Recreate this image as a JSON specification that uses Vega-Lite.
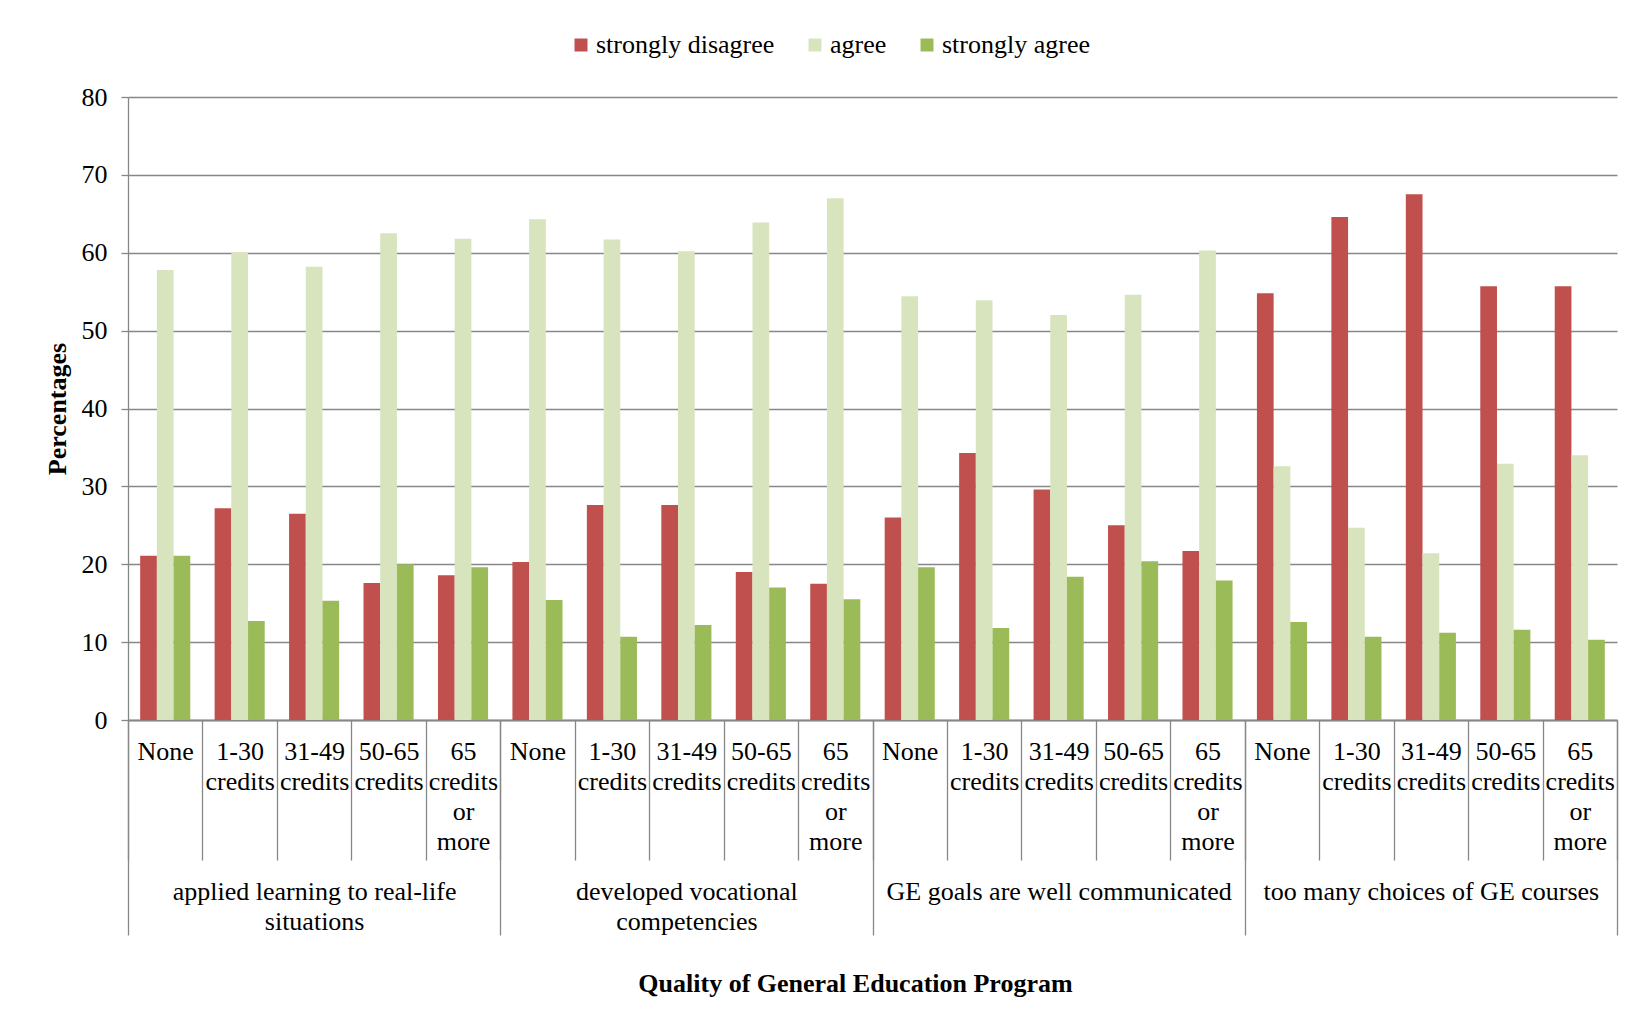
{
  "$schema": "https://vega.github.io/schema/vega-lite/v6.json",
  "autosize": {"type": "none"},
  "padding": {"left": 128, "top": 97, "right": 31, "bottom": 313},
  "width": 1489,
  "height": 623,
  "background": "white",
  "config": {
    "view": {"stroke": null},
    "font": "Liberation Serif"
  },
  "data": {
    "values": [
      {"question": "applied learning to real-life situations", "credits": "None", "response": "strongly disagree", "pct": 21.1},
      {"question": "applied learning to real-life situations", "credits": "None", "response": "agree", "pct": 57.8},
      {"question": "applied learning to real-life situations", "credits": "None", "response": "strongly agree", "pct": 21.1},
      {"question": "applied learning to real-life situations", "credits": "1-30 credits", "response": "strongly disagree", "pct": 27.2},
      {"question": "applied learning to real-life situations", "credits": "1-30 credits", "response": "agree", "pct": 60.1},
      {"question": "applied learning to real-life situations", "credits": "1-30 credits", "response": "strongly agree", "pct": 12.7},
      {"question": "applied learning to real-life situations", "credits": "31-49 credits", "response": "strongly disagree", "pct": 26.5},
      {"question": "applied learning to real-life situations", "credits": "31-49 credits", "response": "agree", "pct": 58.2},
      {"question": "applied learning to real-life situations", "credits": "31-49 credits", "response": "strongly agree", "pct": 15.3},
      {"question": "applied learning to real-life situations", "credits": "50-65 credits", "response": "strongly disagree", "pct": 17.6},
      {"question": "applied learning to real-life situations", "credits": "50-65 credits", "response": "agree", "pct": 62.5},
      {"question": "applied learning to real-life situations", "credits": "50-65 credits", "response": "strongly agree", "pct": 20.0},
      {"question": "applied learning to real-life situations", "credits": "65 credits or more", "response": "strongly disagree", "pct": 18.6},
      {"question": "applied learning to real-life situations", "credits": "65 credits or more", "response": "agree", "pct": 61.8},
      {"question": "applied learning to real-life situations", "credits": "65 credits or more", "response": "strongly agree", "pct": 19.6},

      {"question": "developed vocational competencies", "credits": "None", "response": "strongly disagree", "pct": 20.3},
      {"question": "developed vocational competencies", "credits": "None", "response": "agree", "pct": 64.3},
      {"question": "developed vocational competencies", "credits": "None", "response": "strongly agree", "pct": 15.4},
      {"question": "developed vocational competencies", "credits": "1-30 credits", "response": "strongly disagree", "pct": 27.6},
      {"question": "developed vocational competencies", "credits": "1-30 credits", "response": "agree", "pct": 61.7},
      {"question": "developed vocational competencies", "credits": "1-30 credits", "response": "strongly agree", "pct": 10.7},
      {"question": "developed vocational competencies", "credits": "31-49 credits", "response": "strongly disagree", "pct": 27.6},
      {"question": "developed vocational competencies", "credits": "31-49 credits", "response": "agree", "pct": 60.2},
      {"question": "developed vocational competencies", "credits": "31-49 credits", "response": "strongly agree", "pct": 12.2},
      {"question": "developed vocational competencies", "credits": "50-65 credits", "response": "strongly disagree", "pct": 19.0},
      {"question": "developed vocational competencies", "credits": "50-65 credits", "response": "agree", "pct": 63.9},
      {"question": "developed vocational competencies", "credits": "50-65 credits", "response": "strongly agree", "pct": 17.0},
      {"question": "developed vocational competencies", "credits": "65 credits or more", "response": "strongly disagree", "pct": 17.5},
      {"question": "developed vocational competencies", "credits": "65 credits or more", "response": "agree", "pct": 67.0},
      {"question": "developed vocational competencies", "credits": "65 credits or more", "response": "strongly agree", "pct": 15.5},

      {"question": "GE goals are well communicated", "credits": "None", "response": "strongly disagree", "pct": 26.0},
      {"question": "GE goals are well communicated", "credits": "None", "response": "agree", "pct": 54.4},
      {"question": "GE goals are well communicated", "credits": "None", "response": "strongly agree", "pct": 19.6},
      {"question": "GE goals are well communicated", "credits": "1-30 credits", "response": "strongly disagree", "pct": 34.3},
      {"question": "GE goals are well communicated", "credits": "1-30 credits", "response": "agree", "pct": 53.9},
      {"question": "GE goals are well communicated", "credits": "1-30 credits", "response": "strongly agree", "pct": 11.8},
      {"question": "GE goals are well communicated", "credits": "31-49 credits", "response": "strongly disagree", "pct": 29.6},
      {"question": "GE goals are well communicated", "credits": "31-49 credits", "response": "agree", "pct": 52.0},
      {"question": "GE goals are well communicated", "credits": "31-49 credits", "response": "strongly agree", "pct": 18.4},
      {"question": "GE goals are well communicated", "credits": "50-65 credits", "response": "strongly disagree", "pct": 25.0},
      {"question": "GE goals are well communicated", "credits": "50-65 credits", "response": "agree", "pct": 54.6},
      {"question": "GE goals are well communicated", "credits": "50-65 credits", "response": "strongly agree", "pct": 20.4},
      {"question": "GE goals are well communicated", "credits": "65 credits or more", "response": "strongly disagree", "pct": 21.7},
      {"question": "GE goals are well communicated", "credits": "65 credits or more", "response": "agree", "pct": 60.3},
      {"question": "GE goals are well communicated", "credits": "65 credits or more", "response": "strongly agree", "pct": 17.9},

      {"question": "too many choices of GE courses", "credits": "None", "response": "strongly disagree", "pct": 54.8},
      {"question": "too many choices of GE courses", "credits": "None", "response": "agree", "pct": 32.6},
      {"question": "too many choices of GE courses", "credits": "None", "response": "strongly agree", "pct": 12.6},
      {"question": "too many choices of GE courses", "credits": "1-30 credits", "response": "strongly disagree", "pct": 64.6},
      {"question": "too many choices of GE courses", "credits": "1-30 credits", "response": "agree", "pct": 24.7},
      {"question": "too many choices of GE courses", "credits": "1-30 credits", "response": "strongly agree", "pct": 10.7},
      {"question": "too many choices of GE courses", "credits": "31-49 credits", "response": "strongly disagree", "pct": 67.5},
      {"question": "too many choices of GE courses", "credits": "31-49 credits", "response": "agree", "pct": 21.4},
      {"question": "too many choices of GE courses", "credits": "31-49 credits", "response": "strongly agree", "pct": 11.2},
      {"question": "too many choices of GE courses", "credits": "50-65 credits", "response": "strongly disagree", "pct": 55.7},
      {"question": "too many choices of GE courses", "credits": "50-65 credits", "response": "agree", "pct": 32.9},
      {"question": "too many choices of GE courses", "credits": "50-65 credits", "response": "strongly agree", "pct": 11.6},
      {"question": "too many choices of GE courses", "credits": "65 credits or more", "response": "strongly disagree", "pct": 55.7},
      {"question": "too many choices of GE courses", "credits": "65 credits or more", "response": "agree", "pct": 34.0},
      {"question": "too many choices of GE courses", "credits": "65 credits or more", "response": "strongly agree", "pct": 10.3}
    ]
  },
  "transform": [
    {"calculate": "datum.question + '|' + datum.credits", "as": "cell"}
  ],
  "encoding": {
    "y": {
      "field": "pct",
      "type": "quantitative",
      "scale": {"domain": [0, 80], "nice": false},
      "axis": {
        "title": "Percentages",
        "values": [0, 10, 20, 30, 40, 50, 60, 70, 80],
        "grid": true,
        "gridColor": "#878787",
        "gridWidth": 1.3,
        "domainColor": "#878787",
        "domainWidth": 1.3,
        "tickColor": "#878787",
        "tickWidth": 1.3,
        "tickSize": 7,
        "labelFont": "Liberation Serif",
        "labelFontSize": 26,
        "labelColor": "black",
        "labelPadding": 14,
        "titleFont": "Liberation Serif",
        "titleFontSize": 26,
        "titleFontWeight": "bold",
        "titleColor": "black",
        "titlePadding": 11
      }
    }
  },
  "layer": [
    {
      "mark": {"type": "bar"},
      "encoding": {
        "x": {
          "field": "cell",
          "type": "nominal",
          "sort": null,
          "scale": {"paddingInner": 0, "paddingOuter": 0},
          "axis": {
            "orient": "bottom",
            "title": null,
            "tickBand": "extent",
            "tickSize": 140,
            "tickColor": "#878787",
            "tickWidth": 1.3,
            "domainColor": "#878787",
            "domainWidth": 1.3,
            "labelAngle": 0,
            "labelExpr": "isValid(datum.value) && indexof(datum.value, '|') > 0 ? split(split(datum.value, '|')[1], ' ') : ''",
            "labelFont": "Liberation Serif",
            "labelFontSize": 26,
            "labelLineHeight": 30,
            "labelColor": "black",
            "labelPadding": -122,
            "labelOverlap": false,
            "labelLimit": 300
          }
        },
        "xOffset": {
          "field": "response",
          "type": "nominal",
          "sort": ["strongly disagree", "agree", "strongly agree"],
          "scale": {"paddingInner": 0, "paddingOuter": 0.729}
        },
        "color": {
          "field": "response",
          "type": "nominal",
          "sort": ["strongly disagree", "agree", "strongly agree"],
          "scale": {
            "domain": ["strongly disagree", "agree", "strongly agree"],
            "range": ["#C0504D", "#D7E4BD", "#9BBB59"]
          },
          "legend": {
            "orient": "none",
            "direction": "horizontal",
            "legendX": 440,
            "legendY": -65,
            "title": null,
            "padding": 0,
            "symbolType": "square",
            "symbolSize": 169,
            "symbolStrokeWidth": 0,
            "labelFont": "Liberation Serif",
            "labelFontSize": 26,
            "labelColor": "black",
            "labelOffset": 2,
            "labelLimit": 400,
            "columnPadding": 27
          }
        }
      }
    },
    {
      "mark": {"type": "bar", "opacity": 0},
      "encoding": {
        "x": {
          "field": "question",
          "type": "nominal",
          "sort": null,
          "scale": {"paddingInner": 0, "paddingOuter": 0},
          "axis": {
            "orient": "bottom",
            "title": "Quality of General Education Program",
            "titleFont": "Liberation Serif",
            "titleFontSize": 26,
            "titleFontWeight": "bold",
            "titleColor": "black",
            "titleX": 727,
            "titleY": 263,
            "titleBaseline": "middle",
            "tickBand": "extent",
            "tickSize": 215,
            "tickColor": "#878787",
            "tickWidth": 1.3,
            "domainColor": "#878787",
            "domainWidth": 1.3,
            "labelAngle": 0,
            "labelExpr": "datum.value == 'applied learning to real-life situations' ? ['applied learning to real-life', 'situations'] : datum.value == 'developed vocational competencies' ? ['developed vocational', 'competencies'] : isValid(datum.value) ? datum.value : ''",
            "labelFont": "Liberation Serif",
            "labelFontSize": 26,
            "labelLineHeight": 30,
            "labelColor": "black",
            "labelPadding": -57,
            "labelOverlap": false,
            "labelLimit": 400
          }
        }
      }
    }
  ],
  "resolve": {"scale": {"x": "independent", "color": "independent"}}
}
